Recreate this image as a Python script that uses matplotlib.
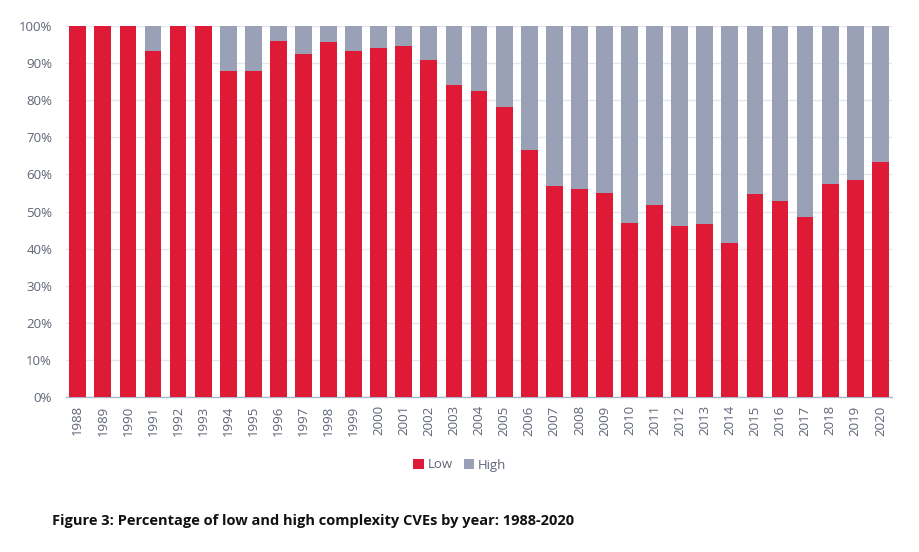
import matplotlib
matplotlib.use("Agg")
import matplotlib.pyplot as plt
from matplotlib.ticker import FuncFormatter

years = [str(y) for y in range(1988, 2021)]
low = [100, 100, 100, 93.3, 100, 100, 88.0, 88.0, 96.0, 92.4, 95.8, 93.3, 94.2, 94.6,
       90.8, 84.1, 82.6, 78.2, 66.6, 56.9, 56.0, 55.1, 46.8, 51.8, 46.1, 46.7, 41.4,
       54.8, 52.8, 48.5, 57.4, 58.5, 63.4]
high = [100 - v for v in low]

red = "#DF1A36"
gray = "#9AA1B7"
tick_color = "#5F6577"

plt.rcParams['font.family'] = ['Open Sans', 'DejaVu Sans']

fig = plt.figure(figsize=(9.2, 5.52), dpi=100)
ax = fig.add_axes([0.0717, 0.2808, 0.898, 0.672])

x = list(range(len(years)))
ax.bar(x, low, width=0.67, color=red, label="Low", zorder=3)
ax.bar(x, high, width=0.67, bottom=low, color=gray, label="High", zorder=3)

ax.set_xlim(-0.47, len(years) - 0.53)
ax.set_ylim(0, 100)
ax.set_yticks(range(0, 101, 10))
ax.yaxis.set_major_formatter(FuncFormatter(lambda v, p: f"{int(v)}%"))
ax.set_xticks(x)
ax.set_xticklabels(years, rotation=90)
ax.grid(axis='y', color="#E4E6EC", linewidth=1, zorder=0)
for s in ['top', 'right', 'left']:
    ax.spines[s].set_visible(False)
ax.spines['bottom'].set_color("#A9B7C9")
ax.spines['bottom'].set_linewidth(1)
ax.tick_params(axis='both', length=0, colors=tick_color, labelsize=9.5)
ax.tick_params(axis='x', pad=6)
ax.tick_params(axis='y', pad=10)

leg = fig.legend(loc='center', bbox_to_anchor=(0.5, 1 - 465 / 552), ncol=2, frameon=False,
                 handlelength=0.8, handleheight=0.8, handletextpad=0.3, columnspacing=0.8,
                 fontsize=9.5)
for t in leg.get_texts():
    t.set_color(tick_color)

fig.text(52 / 920, 1 - 521 / 552, "Figure 3: Percentage of low and high complexity CVEs by year: 1988-2020",
         fontsize=10.5, fontweight='bold', va='center', ha='left', color="#111111")

fig.savefig("out.png", dpi=100)
